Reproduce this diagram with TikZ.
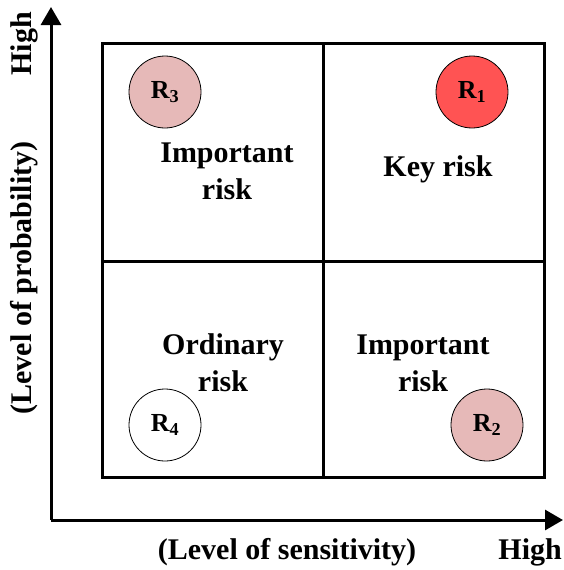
\documentclass[tikz,border=0pt]{standalone}
\usepackage{fontspec}
\setmainfont{Liberation Serif}
\usetikzlibrary{arrows.meta}
\definecolor{pinkrisk}{RGB}{230,185,184}
\definecolor{redrisk}{RGB}{255,83,83}
\tikzset{
  grid/.style={line width=3pt},
  axis/.style={line width=3pt,-{Triangle[length=18pt,width=20pt]}},
  riskdot/.style={circle,draw=black,line width=0.8pt,minimum size=72pt,inner sep=0pt,font=\fontsize{26}{30}\selectfont\bfseries},
  zonelabel/.style={align=center,font=\fontsize{30}{37}\selectfont\bfseries},
  axislabel/.style={font=\fontsize{30}{34}\selectfont\bfseries}
}
\begin{document}
\begin{tikzpicture}[x=1pt,y=-1pt]
\useasboundingbox (0,0) rectangle (563,570);
\fill[white] (0,0) rectangle (563,570);
% grid
\coordinate (tl) at (102,43);
\coordinate (br) at (544,477);
\draw[grid] (tl) rectangle (br);
\coordinate (vt) at (323,43);
\coordinate (vb) at (323,477);
\coordinate (hl) at (102,261);
\coordinate (hr) at (544,261);
\draw[grid] (vt) -- (vb);
\draw[grid] (hl) -- (hr);
% axes
\coordinate (origin) at (51,520);
\coordinate (ytip) at (51,7);
\coordinate (xtip) at (563,520);
\draw[axis] (origin) -- (ytip);
\draw[axis] (origin) -- (xtip);
% circles
\node[riskdot,fill=pinkrisk] (r3) at (165,92) {R\textsubscript{3}};
\node[riskdot,fill=redrisk] (r1) at (472,92) {R\textsubscript{1}};
\node[riskdot,fill=white] (r4) at (165,425) {R\textsubscript{4}};
\node[riskdot,fill=pinkrisk] (r2) at (487,425) {R\textsubscript{2}};
% zone labels
\node[zonelabel] (z1) at (227,171) {Important\\risk};
\node[zonelabel] (z2) at (438,169) {Key risk};
\node[zonelabel] (z3) at (223,363) {Ordinary\\risk};
\node[zonelabel] (z4) at (423,363) {Important\\risk};
% axis labels
\node[axislabel] (xl) at (287,552) {(Level of sensitivity)};
\node[axislabel,inner sep=0pt,anchor=east] (xh) at (562,552) {High};
\node[axislabel,rotate=90] (yl) at (24,278) {(Level of probability)};
\node[axislabel,rotate=90] (yh) at (24,44) {High};
\end{tikzpicture}
\end{document}
